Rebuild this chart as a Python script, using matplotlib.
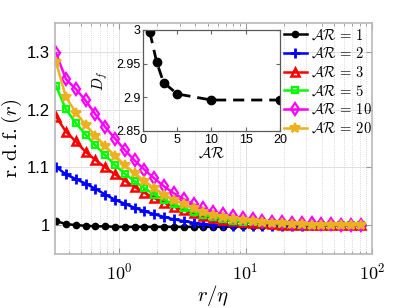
import numpy as np
import matplotlib
matplotlib.use("Agg")
import matplotlib.pyplot as plt

plt.rcParams['mathtext.fontset'] = 'cm'
plt.rcParams['font.family'] = ['Liberation Sans', 'DejaVu Sans']

# r/eta sample points
r_eta = [0.316, 0.378, 0.452, 0.541, 0.647, 0.774, 0.926, 1.107, 1.324, 1.584,
         1.894, 2.266, 2.710, 3.24, 3.88, 4.64, 5.55, 6.64, 7.94, 9.49,
         11.35, 13.58, 16.24, 19.43, 23.24, 27.79, 33.24, 39.76, 47.56, 56.88,
         68.04, 81.4]

rdf_ar1 = [1.007, 1.002, 1.000, 0.999, 0.998, 0.998, 0.997, 0.997, 0.997, 0.997,
           0.997, 0.997, 0.997, 0.997, 0.997, 0.997, 0.997, 0.997, 0.998, 0.998,
           0.998, 0.998, 0.998, 0.999, 0.999, 0.999, 0.999, 0.999, 1.000, 1.000,
           1.000, 1.000]
rdf_ar2 = [1.101, 1.088, 1.080, 1.072, 1.063, 1.053, 1.044, 1.037, 1.030, 1.024,
           1.019, 1.014, 1.010, 1.007, 1.004, 1.002, 1.001, 1.000, 0.999, 0.998,
           0.998, 0.998, 0.999, 0.999, 0.999, 0.999, 1.000, 1.000, 1.000, 1.000,
           1.000, 1.000]
rdf_ar3 = [1.188, 1.162, 1.145, 1.127, 1.113, 1.100, 1.088, 1.077, 1.066, 1.056,
           1.047, 1.039, 1.032, 1.026, 1.021, 1.016, 1.012, 1.009, 1.007, 1.005,
           1.004, 1.003, 1.002, 1.001, 1.001, 1.000, 1.000, 1.000, 1.000, 1.000,
           1.000, 1.000]
rdf_ar5 = [1.241, 1.201, 1.177, 1.157, 1.138, 1.121, 1.104, 1.089, 1.076, 1.064,
           1.053, 1.044, 1.036, 1.029, 1.023, 1.018, 1.014, 1.011, 1.008, 1.006,
           1.005, 1.004, 1.003, 1.002, 1.002, 1.001, 1.001, 1.000, 1.000, 1.000,
           1.000, 1.000]
rdf_ar10 = [1.298, 1.253, 1.236, 1.216, 1.192, 1.170, 1.150, 1.130, 1.112, 1.096,
            1.081, 1.067, 1.055, 1.045, 1.036, 1.029, 1.023, 1.019, 1.015, 1.012,
            1.010, 1.008, 1.006, 1.005, 1.004, 1.003, 1.003, 1.002, 1.002, 1.001,
            1.001, 1.001]
rdf_ar20 = [1.282, 1.222, 1.195, 1.174, 1.155, 1.137, 1.120, 1.104, 1.090, 1.076,
            1.064, 1.053, 1.044, 1.036, 1.029, 1.023, 1.018, 1.014, 1.011, 1.009,
            1.007, 1.005, 1.004, 1.003, 1.002, 1.002, 1.001, 1.001, 1.001, 1.000,
            1.000, 1.000]

# inset: fractal dimension vs aspect ratio
ar_vals = [1, 2, 3, 5, 10, 20]
df_vals = [2.9966, 2.952, 2.922, 2.905, 2.896, 2.896]

labels = [r'$\mathcal{AR}\,=\,1$', r'$\mathcal{AR}\,=\,2$', r'$\mathcal{AR}\,=\,3$',
          r'$\mathcal{AR}\,=\,5$', r'$\mathcal{AR}\,=\,10$', r'$\mathcal{AR}\,=\,20$']

fig = plt.figure(figsize=(4.11, 3.08), dpi=100)
ax = fig.add_axes([0.1338, 0.1753, 0.7712, 0.7497])

lw = 1.8
ax.plot(r_eta, rdf_ar1, '-o', color='k', lw=lw, ms=4.5, label=labels[0])
ax.plot(r_eta, rdf_ar2, '-+', color='b', lw=lw, ms=7, mew=2, label=labels[1])
ax.plot(r_eta, rdf_ar3, '-^', color='r', lw=lw, ms=6, mew=1.8, mfc='none', label=labels[2])
ax.plot(r_eta, rdf_ar5, '-s', color=(0, 1, 0), lw=lw, ms=4.5, mew=1.6, mfc='none', label=labels[3])
ax.plot(r_eta, rdf_ar10, '-d', color=(1, 0, 1), lw=lw, ms=6, mew=1.6, mfc='none', label=labels[4])
ax.plot(r_eta, rdf_ar20, '-*', color='#EDB120', lw=lw, ms=7.5, mew=1.5, label=labels[5])

ax.set_xscale('log')
ax.set_xlim(0.31, 100)
ax.set_ylim(0.95, 1.35)
ax.set_yticks([1, 1.1, 1.2, 1.3])
ax.set_yticklabels(['1', '1.1', '1.2', '1.3'])
ax.set_xticks([1, 10, 100])
ax.set_xticklabels([r'$\mathsf{10^{0}}$', r'$\mathsf{10^{1}}$', r'$\mathsf{10^{2}}$'])
ax.tick_params(which='both', direction='in', top=True, right=True, labelsize=12,
               color='0.6')
ax.tick_params(which='major', length=4)
ax.tick_params(which='minor', length=2)
ax.tick_params(axis='x', labelsize=13, pad=6)
ax.grid(True, which='major', color='0.88', lw=0.7)
ax.grid(True, which='minor', axis='x', color='0.8', lw=0.6, ls=':')
ax.set_axisbelow(True)
for s in ax.spines.values():
    s.set_color('0.72')
    s.set_linewidth(1.2)
ax.set_xlabel(r'$r/\eta$', fontsize=15, labelpad=0)
ax.set_ylabel(r'$\mathrm{r{.}d{.}f{.}}(r)$', fontsize=15, labelpad=2)

fig.legend(handles=ax.get_lines(), loc='upper left', bbox_to_anchor=(0.69, 0.91),
           frameon=False, fontsize=10.5, handlelength=1.6, handletextpad=0.25,
           labelspacing=0.28, borderpad=0, borderaxespad=0)

# inset
ins = fig.add_axes([0.348, 0.5747, 0.333, 0.3279])
ins.plot(ar_vals, df_vals, '--o', color='k', lw=2, ms=6, dashes=(4, 2.5))
ins.set_xlim(0, 20)
ins.set_ylim(2.85, 3.0)
ins.set_xticks([0, 5, 10, 15, 20])
ins.set_yticks([2.85, 2.9, 2.95, 3])
ins.set_yticklabels(['2.85', '2.9', '2.95', '3'])
ins.tick_params(direction='in', top=True, right=True, labelsize=9, length=3,
                color='0.4', pad=2)
for s in ins.spines.values():
    s.set_color('0.35')
    s.set_linewidth(0.9)
ins.set_xlabel(r'$\mathcal{AR}$', fontsize=11, labelpad=0)
ins.set_ylabel(r'$D_f$', fontsize=11, labelpad=4)

fig.savefig('out.png', dpi=100)
